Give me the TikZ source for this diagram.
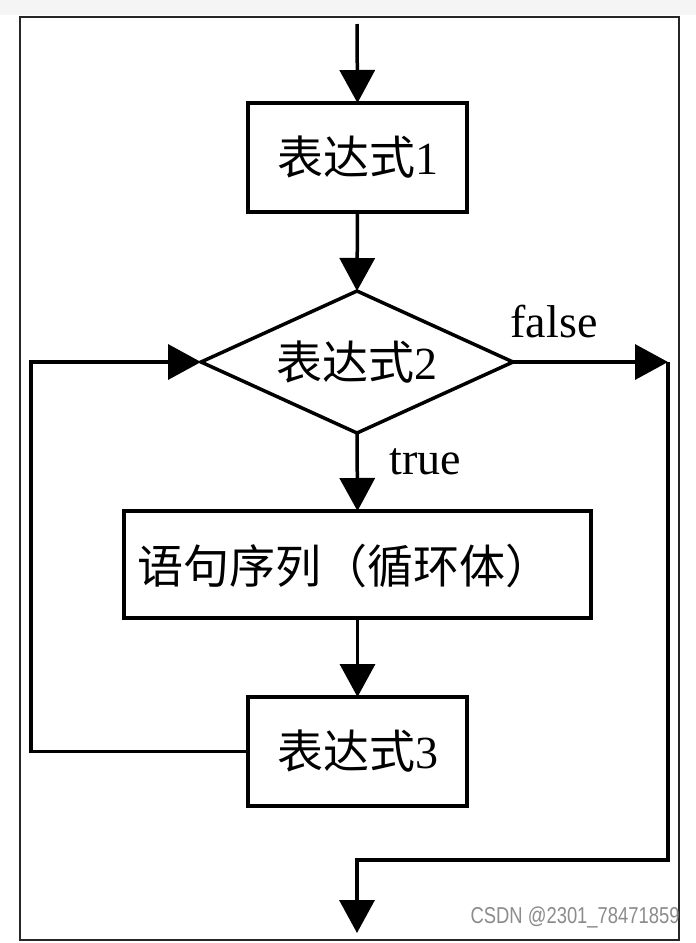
\documentclass[tikz,border=0pt]{standalone}
\usepackage{fontspec}
\setmainfont{Liberation Serif}
\newfontfamily\cjk{Noto Sans CJK SC}
\newfontfamily\wmfont{Liberation Sans}
\usetikzlibrary{arrows.meta,shapes.geometric}
\begin{document}
\begin{tikzpicture}[x=1pt,y=-1pt,
  line width=3.5pt,
  box/.style={draw, rectangle, inner sep=0pt, outer sep=0pt},
  txt/.style={font=\fontsize{46}{50}\selectfont, inner sep=0pt},
  arr/.style={-{Triangle[length=33pt,width=35pt]}},
  ]
\useasboundingbox (0,0) rectangle (696,943);
\fill[white] (0,0) rectangle (696,943);
\fill[black!4] (0,0) rectangle (696,15);
\draw[line width=2.5pt, black!85] (20,17) rectangle (679,940);

% nodes
\node[box, minimum width=219pt, minimum height=109pt] (b1) at (357.5,157.5) {};
\node[txt] (t1) at (b1.center) {{\cjk 表达式}1};

\node[draw, diamond, inner sep=0pt, outer sep=0pt, minimum width=312pt, minimum height=142pt] (d) at (357,362) {};
\node[txt] (t2) at (d.center) {{\cjk 表达式}2};

\node[box, minimum width=467pt, minimum height=107pt] (b2) at (357.5,564.5) {};
\node[txt, anchor=west] (t3) at (136,566) {\cjk 语句序列（循环体）};

\node[box, minimum width=219pt, minimum height=109pt] (b3) at (357.5,751.5) {};
\node[txt] (t4) at (b3.center) {{\cjk 表达式}3};

\node[txt] (lf) at (554,322) {false};
\node[txt] (lt) at (425,462) {true};

% coordinates
\coordinate (start) at (357,24);
\coordinate (lc) at (31,362);
\coordinate (rc) at (668,362);
\coordinate (bc) at (668,860);
\coordinate (endp) at (357,933);

% connectors
\draw[arr] (start) -- (b1.north);
\draw[arr] (b1.south) -- (d.north);
\draw[arr] (d.south) -- (b2.north);
\draw[arr] (b2.south) -- (b3.north);
\draw[arr] (b3.west) -| (lc) -- (d.west);
\draw[arr] (d.east) -- (rc);
\draw[arr] (rc) -- (bc) -| (endp);

% watermark
\node[anchor=east, inner sep=0pt, text=black!45, font=\wmfont\fontsize{23}{25}\selectfont, xscale=0.8] (wm) at (681,917) {CSDN @2301\_78471859};
\end{tikzpicture}
\end{document}
